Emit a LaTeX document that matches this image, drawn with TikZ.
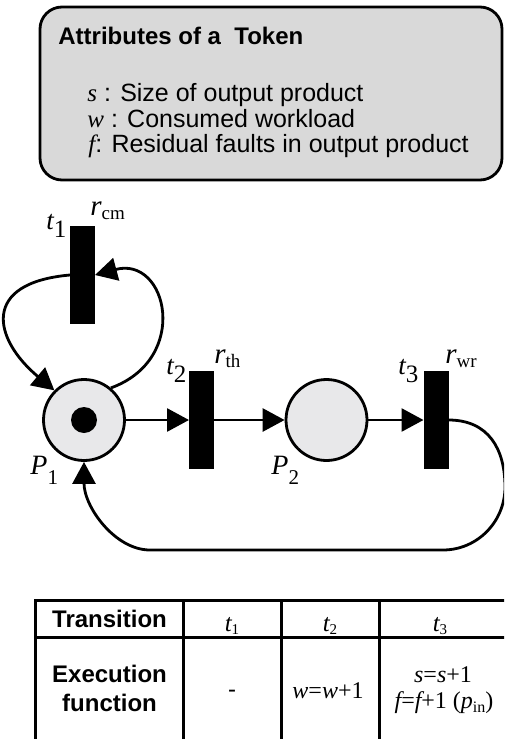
\documentclass[tikz,border=0pt]{standalone}
\usepackage{fontspec}
\setmainfont{Liberation Serif}
\setsansfont{Liberation Sans}
\usepackage{tikz}
\usetikzlibrary{arrows.meta,positioning}
\definecolor{boxgray}{RGB}{217,217,217}
\definecolor{placegray}{RGB}{232,232,234}
\newcommand\mvar[1]{{\rmfamily\itshape #1}}
\newcommand\tvar[1]{{\fontsize{13.5}{13.5}\selectfont\itshape t}\raisebox{-4pt}{\fontsize{12.5}{12.5}\selectfont #1}}
\newcommand\rvar[1]{{\fontsize{14.5}{14.5}\selectfont\itshape r}\raisebox{-2pt}{\fontsize{9.5}{9.5}\selectfont #1}}
\newcommand\pvar[1]{{\fontsize{14}{14}\selectfont\itshape P}\raisebox{-5pt}{\fontsize{10.5}{10.5}\selectfont #1}}
\newcommand\ttab[1]{{\fontsize{12.5}{12.5}\selectfont\itshape t}\raisebox{-1.5pt}{\fontsize{7.5}{7.5}\selectfont #1}}
\tikzset{
  place/.style={circle,draw,line width=1.4pt,fill=placegray,minimum size=40.5pt,inner sep=0pt},
  trans/.style={rectangle,fill=black,minimum width=12.5pt,minimum height=49pt,inner sep=0pt,outer sep=0pt},
  tok/.style={circle,fill=black,minimum size=13pt,inner sep=0pt},
  flow/.style={-{Triangle[length=11pt,width=11.5pt]},line width=1.4pt},
  lbl/.style={anchor=base west,inner sep=0pt},
  txt/.style={anchor=base,inner sep=0pt,font=\fontsize{12}{12}\selectfont},
  bold/.style={anchor=base,inner sep=0pt,font=\sffamily\bfseries\fontsize{12}{12}\selectfont},
  tabline/.style={line width=1.5pt}
}

\begin{document}
\begin{tikzpicture}[x=0.5pt,y=0.5pt]
\useasboundingbox (0,0) rectangle (504,-739);
\clip (0,0) rectangle (504,-739);
% atributos del token
\draw[line width=1.4pt,fill=boxgray,rounded corners=11pt] (40,-7) rectangle (502,-180);
\node[lbl,font=\sffamily\bfseries\fontsize{12}{12}\selectfont] (title) at (58,-44) {Attributes of a\ \ Token};
\node[lbl,font=\sffamily\fontsize{12.5}{12.5}\selectfont] (attrs) at (87,-101) {\mvar{s} : Size of output product};
\node[lbl,font=\sffamily\fontsize{12.5}{12.5}\selectfont] (attrw) at (87,-127) {\mvar{w} : Consumed workload};
\node[lbl,font=\sffamily\fontsize{12.5}{12.5}\selectfont] (attrf) at (88,-152) {\mvar{f}: Residual faults in output product};
% red de petri
\node[place] (P1) at (84,-420) {};
\node[tok] (tk) at (P1) {};
\node[place] (P2) at (326.5,-420) {};
\node[trans] (t1) at (82.5,-275) {};
\node[trans] (t2) at (201.5,-420) {};
\node[trans] (t3) at (436,-420) {};
\node[lbl] (lt1) at (46,-229) {\tvar{1}};
\node[lbl] (lr1) at (90,-215) {\rvar{cm}};
\node[lbl] (lt2) at (166,-374) {\tvar{2}};
\node[lbl] (lr2) at (214,-363) {\rvar{th}};
\node[lbl] (lt3) at (398,-374) {\tvar{3}};
\node[lbl] (lr3) at (445,-363) {\rvar{wr}};
\node[lbl] (lp1) at (30,-474) {\pvar{1}};
\node[lbl] (lp2) at (271,-474) {\pvar{2}};
\draw[flow] (P1.east) -- (t2.west);
\draw[flow] (t2.east) -- (P2.west);
\draw[flow] (P2.east) -- (t3.west);
\draw[flow] (P1.50) .. controls +(20:85) and +(15:75) .. (t1.east);
\draw[flow] (t1.west) .. controls +(185:90) and +(140:80) .. (P1.135);
\draw[flow] (t3.east) .. controls +(40,0) and +(0,38) .. (505,-487)
  .. controls +(0,-35) and +(34,0) .. (443,-550) -- (150,-550)
  .. controls +(-35,0) and +(0,-45) .. (P1.south);
% tabla
\draw[tabline] (35,-600) rectangle (530,-760);
\draw[tabline] (35,-637) -- (530,-637) (183,-600) -- (183,-760) (281,-600) -- (281,-760) (379,-600) -- (379,-760);
\node[bold] (htr) at (109.5,-627) {Transition};
\node[txt] (h1) at (232,-631) {\ttab{1}};
\node[txt] (h2) at (330,-631) {\ttab{2}};
\node[txt] (h3) at (440,-631) {\ttab{3}};
\node[bold] (hex) at (109.5,-682) {Execution};
\node[bold] (hfn) at (109.5,-711) {function};
\node[txt,font=\sffamily\fontsize{12}{12}\selectfont] (f1) at (232,-697) {-};
\node[txt] (f2) at (328,-698) {\mvar{w}=\mvar{w}+1};
\node[txt] (f3a) at (443,-682) {\mvar{s}=\mvar{s}+1};
\node[txt] (f3b) at (444,-708) {\mvar{f}=\mvar{f}+1 (\mvar{p}\raisebox{-2pt}{\fontsize{8}{8}\selectfont in})};
\end{tikzpicture}
\end{document}
